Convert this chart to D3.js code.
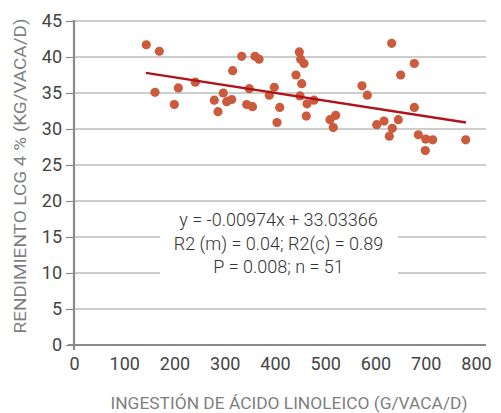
<!DOCTYPE html>
<html><head><meta charset="utf-8">
<script src="https://cdn.jsdelivr.net/npm/d3@7"></script>
<style>
body{margin:0;background:#fff;}
svg{display:block;font-family:Roboto,"Noto Sans",sans-serif;}
</style></head><body>
<svg id="c" width="501" height="413"></svg>
<script>
// Data
const xValues = [143.9,169.8,161.2,199.6,207.6,241.4,279.2,286.6,297.1,303.9,313.8,315.8,333.7,348.9,343.7,355.2,360.2,368.2,388.7,398.6,409.4,404.0,448.4,451.1,457.7,441.8,453.1,449.8,463.7,477.6,462.3,509.5,520.8,516.0,573.1,583.7,632.2,677.2,650.1,677.2,645.4,616.9,602.4,633.4,627.5,685.2,699.9,713.8,699.1,779.5];
const yValues = [41.7,40.8,35.1,33.4,35.7,36.5,34.0,32.4,35.0,33.8,34.1,38.1,40.1,35.6,33.4,33.1,40.1,39.7,34.7,35.8,33.0,30.9,40.7,39.7,39.1,37.5,36.3,34.6,33.5,34.0,31.8,31.3,31.9,30.2,36.0,34.7,41.9,39.1,37.5,33.0,31.3,31.1,30.6,30.1,29.0,29.2,28.6,28.5,27.0,28.5];
const trendX = [143, 780];
const trendY = [37.8, 30.9];
const xTicks = [0,100,200,300,400,500,600,700,800];
const yTicks = [0,5,10,15,20,25,30,35,40,45];
const annotation = ["y = -0.00974x + 33.03366","R2 (m) = 0.04; R2(c) = 0.89","P = 0.008; n = 51"];
const xTitle = "INGESTIÓN DE ÁCIDO LINOLEICO (G/VACA/D)";
const yTitle = "RENDIMIENTO LCG 4 % (KG/VACA/D)";

const svg = d3.select("#c");
const x = d3.scaleLinear().domain([0,800]).range([74,476]);
const y = d3.scaleLinear().domain([0,45]).range([345,21]);
const xEnd = 486;

// gridlines
svg.append("g").selectAll("line").data(yTicks.filter(d=>d>0)).join("line")
  .attr("x1",x(0)).attr("x2",xEnd).attr("y1",d=>y(d)).attr("y2",d=>y(d))
  .attr("stroke","#bdbdbd").attr("stroke-width",1.5);

// y axis
const yAxis = svg.append("g").attr("transform",`translate(${x(0)},0)`)
  .call(d3.axisLeft(y).tickValues(yTicks).tickSize(8).tickPadding(4));
yAxis.select(".domain").remove();
yAxis.selectAll(".tick line").attr("stroke","#8a8a8a").attr("stroke-width",1.2);
yAxis.selectAll(".tick text").attr("font-size",18).attr("fill","#444").attr("font-family","Roboto").attr("font-weight",400);
svg.append("line").attr("x1",x(0)).attr("x2",x(0)).attr("y1",y(45)-1).attr("y2",y(0)+5)
  .attr("stroke","#8a8a8a").attr("stroke-width",2.2);

// x axis
const xAxis = svg.append("g").attr("transform",`translate(0,${y(0)})`)
  .call(d3.axisBottom(x).tickValues(xTicks).tickSize(0).tickPadding(12));
xAxis.select(".domain").remove();
xAxis.selectAll(".tick text").attr("font-size",18).attr("fill","#444").attr("font-family","Roboto").attr("font-weight",400);
svg.append("line").attr("x1",x(0)-6).attr("x2",xEnd).attr("y1",y(0)).attr("y2",y(0))
  .attr("stroke","#8a8a8a").attr("stroke-width",2.2);

// titles
svg.append("text").attr("x",289).attr("y",409).attr("text-anchor","middle")
  .attr("font-size",16.5).attr("fill","#7f7f7f").attr("font-weight",400)
  .attr("textLength",357).attr("lengthAdjust","spacingAndGlyphs").text(xTitle);
svg.append("text").attr("transform","translate(26,176) rotate(-90)").attr("text-anchor","middle")
  .attr("font-size",16.5).attr("fill","#7f7f7f").attr("font-weight",400)
  .attr("textLength",315).attr("lengthAdjust","spacingAndGlyphs").text(yTitle);

// points
const pts = xValues.map((v,i)=>({x:v,y:yValues[i]}));
svg.append("g").selectAll("circle").data(pts).join("circle")
  .attr("cx",d=>x(d.x)).attr("cy",d=>y(d.y)).attr("r",4.6)
  .attr("fill","#cc5a3c");

// trend line
svg.append("line").attr("x1",x(trendX[0])).attr("y1",y(trendY[0]))
  .attr("x2",x(trendX[1])).attr("y2",y(trendY[1]))
  .attr("stroke","#b0141b").attr("stroke-width",2.4);

// annotation box
svg.append("rect").attr("x",160).attr("y",205).attr("width",238).attr("height",78).attr("fill","#fff");
svg.append("g").selectAll("text").data(annotation).join("text")
  .attr("x",278.5).attr("y",(d,i)=>226+i*23.5).attr("text-anchor","middle")
  .attr("font-size",18).attr("fill","#333").attr("font-weight",300).text(d=>d);
</script></body></html>
